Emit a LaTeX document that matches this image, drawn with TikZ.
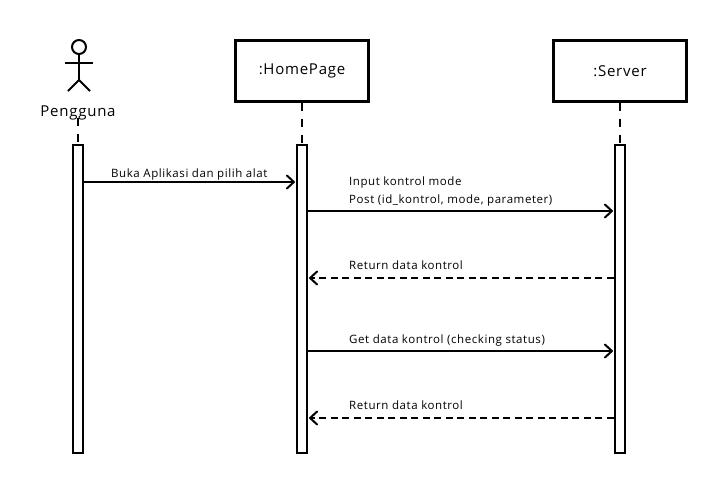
\documentclass[tikz,border=0pt]{standalone}
\usepackage{fontspec}
\setmainfont[LetterSpace=5]{Open Sans}
\usetikzlibrary{positioning, arrows.meta}
\tikzset{
  objbox/.style={draw=black, line width=2.4pt, fill=white, minimum width=133pt, minimum height=61pt, font=\fontsize{15}{17}\selectfont},
  activation/.style={draw=black, line width=2.2pt, fill=white, minimum width=10pt, minimum height=308pt, inner sep=0pt},
  lifeline/.style={line width=2pt, dash pattern=on 8pt off 8pt},
  msg/.style={-{Straight Barb[length=7pt,width=13pt,round]}, line width=2pt, shorten >=1pt},
  reply/.style={msg, dash pattern=on 7pt off 4.5pt},
  msglabel/.style={font=\fontsize{11.5}{18}\selectfont, inner sep=0pt, align=left, anchor=base west}
}
\begin{document}
\begin{tikzpicture}[x=1pt,y=-1pt]
  \useasboundingbox (0,0) rectangle (723,491);
  % objects
  \node[objbox] (home) at (302,71) {:HomePage};
  \node[objbox] (server) at (620,71) {:Server};
  % actor
  \node[draw, circle, line width=2pt, minimum size=14pt, inner sep=0pt] (head) at (79,47) {};
  \coordinate (hip) at (79,80);
  \coordinate (armL) at (65,63);
  \coordinate (armR) at (93,63);
  \coordinate (legL) at (68,91);
  \coordinate (legR) at (90,91);
  \draw[line width=2pt] (head.south) -- (hip);
  \draw[line width=2pt] (armL) -- (armR);
  \draw[line width=2pt] (legL) -- (hip) -- (legR);
  \node[font=\fontsize{15}{17}\selectfont, inner sep=0pt] (user) at (78,113) {Pengguna};
  % activations
  \node[activation] (barU) at (78,299) {};
  \node[activation] (barH) at (302,299) {};
  \node[activation] (barS) at (620,299) {};
  % lifelines
  \coordinate (userEnd) at (78,118);
  \draw[lifeline] (userEnd) -- (barU.north);
  \draw[lifeline] (home.south) -- (barH.north);
  \draw[lifeline] (server.south) -- (barS.north);
  % messages
  \coordinate (u1) at (barU.east |- 0,182);
  \coordinate (h1) at (barH.west |- 0,182);
  \coordinate (h2) at (barH.east |- 0,211);
  \coordinate (s2) at (barS.west |- 0,211);
  \coordinate (s3) at (barS.west |- 0,278);
  \coordinate (h3) at (barH.east |- 0,278);
  \coordinate (h4) at (barH.east |- 0,351);
  \coordinate (s4) at (barS.west |- 0,351);
  \coordinate (s5) at (barS.west |- 0,418);
  \coordinate (h5) at (barH.east |- 0,418);
  \draw[msg] (u1) -- (h1);
  \draw[msg] (h2) -- (s2);
  \draw[reply] (s3) -- (h3);
  \draw[msg] (h4) -- (s4);
  \draw[reply] (s5) -- (h5);
  % labels
  \node[msglabel] (m1) at (111,177) {Buka Aplikasi dan pilih alat};
  \node[msglabel] (m2a) at (349,185) {Input kontrol mode};
  \node[msglabel] (m2b) at (349,203) {Post (id\_kontrol, mode, parameter)};
  \node[msglabel] (m3) at (349,269) {Return data kontrol};
  \node[msglabel] (m4) at (349,343) {Get data kontrol (checking status)};
  \node[msglabel] (m5) at (349,409) {Return data kontrol};
\end{tikzpicture}
\end{document}
